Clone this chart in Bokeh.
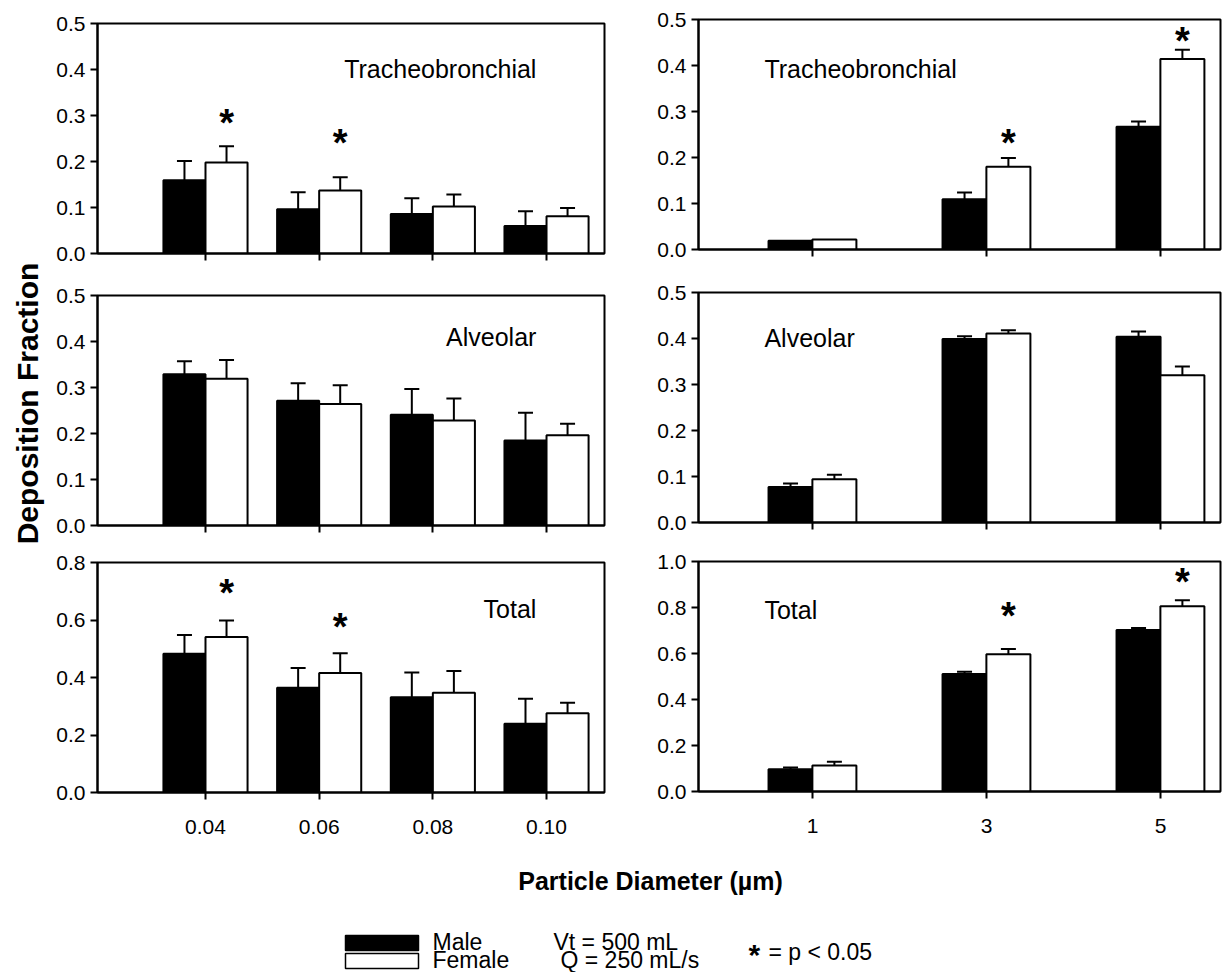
import math
from bokeh.plotting import figure
from bokeh.layouts import row, column
from bokeh.models import (ColumnDataSource, FixedTicker, Range1d, Whisker, TeeHead,
                          Label, NumeralTickFormatter)
from bokeh.core.properties import value
from bokeh.embed import file_html
from bokeh.resources import INLINE

FONT = "Liberation Sans"

# ---------------- data ----------------
small_sizes = ["0.04", "0.06", "0.08", "0.10"]
large_sizes = ["1", "3", "5"]

tb_small_male = [0.159, 0.096, 0.086, 0.060]
tb_small_male_sd = [0.042, 0.037, 0.034, 0.032]
tb_small_female = [0.198, 0.137, 0.102, 0.081]
tb_small_female_sd = [0.035, 0.029, 0.026, 0.018]
tb_small_star = [0.297, 0.254, None, None]

tb_large_male = [0.019, 0.109, 0.267]
tb_large_male_sd = [0.0, 0.015, 0.011]
tb_large_female = [0.022, 0.180, 0.414]
tb_large_female_sd = [0.0, 0.019, 0.020]
tb_large_star = [None, 0.245, 0.466]

alv_small_male = [0.329, 0.271, 0.241, 0.185]
alv_small_male_sd = [0.028, 0.038, 0.056, 0.060]
alv_small_female = [0.319, 0.264, 0.228, 0.196]
alv_small_female_sd = [0.041, 0.041, 0.048, 0.025]
alv_small_star = [None, None, None, None]

alv_large_male = [0.077, 0.399, 0.404]
alv_large_male_sd = [0.008, 0.006, 0.011]
alv_large_female = [0.094, 0.411, 0.320]
alv_large_female_sd = [0.010, 0.007, 0.019]
alv_large_star = [None, None, None]

tot_small_male = [0.483, 0.364, 0.331, 0.239]
tot_small_male_sd = [0.065, 0.069, 0.086, 0.087]
tot_small_female = [0.541, 0.416, 0.347, 0.276]
tot_small_female_sd = [0.057, 0.068, 0.076, 0.036]
tot_small_star = [0.715, 0.596, None, None]

tot_large_male = [0.097, 0.511, 0.702]
tot_large_male_sd = [0.007, 0.010, 0.009]
tot_large_female = [0.113, 0.597, 0.805]
tot_large_female_sd = [0.016, 0.023, 0.027]
tot_large_star = [None, 0.787, 0.939]

y_ticks_05 = [0.0, 0.1, 0.2, 0.3, 0.4, 0.5]
y_ticks_08 = [0.0, 0.2, 0.4, 0.6, 0.8]
y_ticks_10 = [0.0, 0.2, 0.4, 0.6, 0.8, 1.0]


def panel(width, height, b_left, b_right, b_top, b_bottom, x_range, y_max, y_ticks,
          cats, male, male_sd, female, female_sd, stars, title, tx, ty, talign,
          show_labels, offset, bar_w):
    p = figure(width=width, height=height, output_backend="svg", toolbar_location=None,
               x_range=Range1d(*x_range), y_range=Range1d(0, y_max), title=None,
               min_border_left=b_left, min_border_right=b_right,
               min_border_top=b_top, min_border_bottom=b_bottom)
    p.grid.visible = False
    p.background_fill_color = "white"
    p.border_fill_color = "white"
    p.outline_line_color = "black"
    p.outline_line_width = 2
    p.outline_line_alpha = 1.0

    idx = list(range(len(cats)))
    xm = [i - offset for i in idx]
    xf = [i + offset for i in idx]

    p.vbar(x=xm, top=male, bottom=0, width=bar_w, fill_color="black",
           line_color="black", line_width=2)
    p.vbar(x=xf, top=female, bottom=0, width=bar_w, fill_color="white",
           line_color="black", line_width=2)

    for xs, vals, sds in ((xm, male, male_sd), (xf, female, female_sd)):
        keep = [k for k in idx if sds[k] > 0]
        src = ColumnDataSource(dict(x=[xs[k] for k in keep],
                                    lo=[vals[k] for k in keep],
                                    hi=[vals[k] + sds[k] for k in keep]))
        w = Whisker(source=src, base="x", lower="lo", upper="hi",
                    line_color="black", line_width=2, lower_head=None,
                    upper_head=TeeHead(size=15, line_color="black", line_width=2))
        p.add_layout(w)

    sk = [k for k in idx if stars[k] is not None]
    if sk:
        p.text(x=[xf[k] for k in sk], y=[stars[k] for k in sk], text=["*"] * len(sk),
               text_font=value(FONT), text_font_style="bold", text_font_size="38px",
               text_align="center", text_baseline="middle", y_offset=6,
               text_color="black")

    p.add_layout(Label(x=tx, y=ty, text=title, text_font=FONT, text_font_size="25px",
                       text_align=talign, text_baseline="middle", text_color="black"))

    yax = p.yaxis[0]
    yax.ticker = FixedTicker(ticks=y_ticks)
    yax.formatter = NumeralTickFormatter(format="0.0")
    yax.major_tick_out = 7
    yax.major_tick_in = 0
    yax.minor_tick_out = 0
    yax.minor_tick_in = 0
    yax.axis_line_width = 2
    yax.major_tick_line_width = 2
    yax.major_label_text_font = FONT
    yax.major_label_text_font_size = "21px"
    yax.major_label_text_color = "black"
    yax.major_label_standoff = 5

    xax = p.xaxis[0]
    xax.ticker = FixedTicker(ticks=idx)
    xax.major_tick_out = 7
    xax.major_tick_in = 0
    xax.minor_tick_out = 0
    xax.minor_tick_in = 0
    xax.axis_line_width = 2
    xax.major_tick_line_width = 2
    if show_labels:
        xax.major_label_overrides = {k: cats[k] for k in idx}
        xax.major_label_text_font = FONT
        xax.major_label_text_font_size = "21px"
        xax.major_label_text_color = "black"
        xax.major_label_standoff = 20
    else:
        xax.major_label_overrides = {k: "" for k in idx}
        xax.major_label_text_font_size = "0px"
        xax.major_label_standoff = 0
    return p


YLW = 46
LW, RW = 604, 573
lxr = (-0.95, 3.51)
rxr = (-0.655, 2.345)
loff, lbw = 0.185, 0.37
roff, rbw = 0.126, 0.253
LBL, LBR = 51, 46
RBL, RBR = 48, 3

L1 = panel(LW, 275, LBL, LBR, 23, 22, lxr, 0.5, y_ticks_05, small_sizes,
           tb_small_male, tb_small_male_sd, tb_small_female, tb_small_female_sd,
           tb_small_star, "Tracheobronchial", 2.911, 0.402, "right", False, loff, lbw)
L2 = panel(LW, 272, LBL, LBR, 20, 22, lxr, 0.5, y_ticks_05, small_sizes,
           alv_small_male, alv_small_male_sd, alv_small_female, alv_small_female_sd,
           alv_small_star, "Alveolar", 2.911, 0.409, "right", False, loff, lbw)
L3 = panel(LW, 300, LBL, LBR, 15, 55, lxr, 0.8, y_ticks_08, small_sizes,
           tot_small_male, tot_small_male_sd, tot_small_female, tot_small_female_sd,
           tot_small_star, "Total", 2.911, 0.637, "right", True, loff, lbw)

R1 = panel(RW, 271, RBL, RBR, 19, 22, rxr, 0.5, y_ticks_05, large_sizes,
           tb_large_male, tb_large_male_sd, tb_large_female, tb_large_female_sd,
           tb_large_star, "Tracheobronchial", -0.276, 0.393, "left", False, roff, rbw)
R2 = panel(RW, 273, RBL, RBR, 21, 22, rxr, 0.5, y_ticks_05, large_sizes,
           alv_large_male, alv_large_male_sd, alv_large_female, alv_large_female_sd,
           alv_large_star, "Alveolar", -0.276, 0.402, "left", False, roff, rbw)
R3 = panel(RW, 303, RBL, RBR, 17, 56, rxr, 1.0, y_ticks_10, large_sizes,
           tot_large_male, tot_large_male_sd, tot_large_female, tot_large_female_sd,
           tot_large_star, "Total", -0.276, 0.791, "left", True, roff, rbw)

TOP_H = 847


def blank(width, height, xr, yr):
    f = figure(width=width, height=height, output_backend="svg", toolbar_location=None,
               x_range=Range1d(*xr), y_range=Range1d(*yr), title=None,
               min_border=0, min_border_left=0, min_border_right=0,
               min_border_top=0, min_border_bottom=0)
    f.axis.visible = False
    f.grid.visible = False
    f.outline_line_color = None
    f.background_fill_color = "white"
    f.border_fill_color = "white"
    return f


ylab = blank(YLW, TOP_H, (0, YLW), (0, TOP_H))
ylab.text(x=[27], y=[TOP_H - 403], text=["Deposition Fraction"], angle=math.pi / 2,
          text_font=value(FONT), text_font_style="bold", text_font_size="30px",
          text_align="center", text_baseline="middle", text_color="black")

BH = 972 - TOP_H
bottom = blank(1223, BH, (0, 1223), (972, TOP_H))
bottom.text(x=[650], y=[880], text=["Particle Diameter (µm)"],
            text_font=value(FONT), text_font_style="bold", text_font_size="25px",
            text_align="center", text_baseline="middle", text_color="black")

legend_names = ["Male", "Female"]
legend_fill = ["black", "white"]
bottom.quad(left=[345, 345], right=[418, 418], top=[935, 953], bottom=[950, 968],
            fill_color=legend_fill, line_color="black", line_width=1.5)
bottom.text(x=[432, 432], y=[941, 959], text=legend_names, text_font=value(FONT),
            text_font_size="23px", text_align="left", text_baseline="middle",
            text_color="black")
bottom.text(x=[553, 560], y=[941, 959], text=["Vt = 500 mL", "Q = 250 mL/s"],
            text_font=value(FONT), text_font_size="23px", text_align="left",
            text_baseline="middle", text_color="black")
bottom.text(x=[748], y=[954], text=["*"], text_font=value(FONT), text_font_style="bold",
            text_font_size="30px", text_align="left", text_baseline="middle",
            text_color="black")
bottom.text(x=[768], y=[951], text=["= p < 0.05"], text_font=value(FONT),
            text_font_size="23px", text_align="left", text_baseline="middle",
            text_color="black")

layout = column(row(ylab, column(L1, L2, L3), column(R1, R2, R3)), bottom)

open("out.html", "w").write(file_html(layout, INLINE))
